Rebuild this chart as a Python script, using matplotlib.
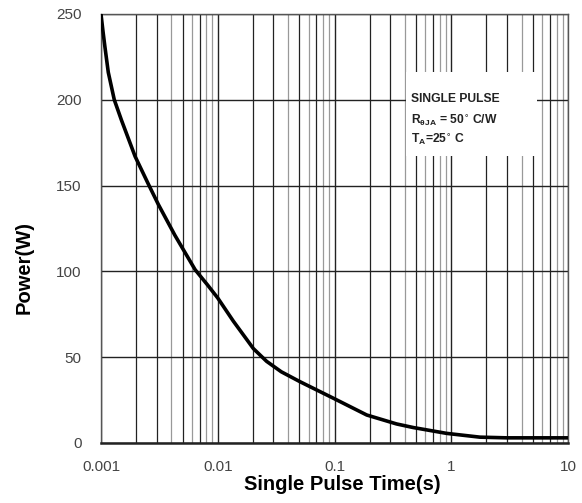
import matplotlib.pyplot as plt
from matplotlib.patches import Rectangle
from matplotlib.ticker import FixedLocator, NullFormatter

plt.rcParams['font.family'] = ['Liberation Sans', 'DejaVu Sans']

# single pulse power curve
pulse_time = [0.001, 0.00104, 0.00108, 0.001155, 0.0013, 0.0015, 0.00196, 0.00254, 0.0031,
              0.0043, 0.0064, 0.0082, 0.01, 0.0136, 0.0202, 0.0262, 0.035, 0.0507,
              0.0977, 0.189, 0.245, 0.34, 0.473, 0.913, 1.76, 3, 10]
power = [250, 240, 231, 216, 200, 188, 167, 151, 139,
         121, 101, 92, 84.5, 71, 55, 47.6, 41.5, 35.7,
         26.1, 16.3, 14.0, 11.1, 9.0, 5.6, 3.4, 3.0, 3.0]

x_ticks = [0.001, 0.01, 0.1, 1, 10]
x_tick_labels = ['0.001', '0.01', '0.1', '1', '10']
y_ticks = [0, 50, 100, 150, 200, 250]

fig = plt.figure(figsize=(5.82, 5.03), dpi=100)
ax = fig.add_axes([0.1735, 0.1193, 0.8025, 0.8529])

ax.set_xscale('log')
ax.set_xlim(0.001, 10)
ax.set_ylim(0, 250)

ax.xaxis.set_major_locator(FixedLocator(x_ticks))
ax.xaxis.set_minor_locator(FixedLocator([]))
ax.xaxis.set_minor_formatter(NullFormatter())
ax.set_xticks(x_ticks)
ax.set_xticklabels(x_tick_labels)
ax.set_yticks(y_ticks)

ax.grid(True, which='major', color='#222222', lw=1.0, zorder=1)

# minor decade lines, some dark and some light as in the datasheet
for e in range(-3, 1):
    for m in range(2, 10):
        c = '#222222' if m in (2, 3, 5, 7) else '#999999'
        ax.axvline(m * 10.0 ** e, color=c, lw=0.9, zorder=1)

ax.tick_params(which='both', length=0, labelsize=11, labelcolor='#444444')
ax.tick_params(axis='x', pad=12)
ax.tick_params(axis='y', pad=14)

for s in ax.spines.values():
    s.set_color('#555555')
    s.set_linewidth(1.0)
ax.spines['bottom'].set_color('#222222')
ax.spines['bottom'].set_linewidth(1.8)

ax.plot(pulse_time, power, color='black', lw=2.6, zorder=5,
        solid_capstyle='round', solid_joinstyle='round')

# white box with the test conditions
ax.add_patch(Rectangle((0.653, 0.669), 0.281, 0.196, transform=ax.transAxes,
                       facecolor='white', edgecolor='none', zorder=4))
ax.text(0.663, 0.801, 'SINGLE PULSE', transform=ax.transAxes, fontsize=8.7,
        fontweight='bold', color='#222222', va='center', zorder=7)
ax.text(0.663, 0.752, r'R$_{\mathregular{\theta JA}}$ = 50$^{\circ}$ C/W',
        transform=ax.transAxes, fontsize=8.7, fontweight='bold', color='#222222',
        va='center', zorder=7)
ax.text(0.663, 0.707, r'T$_{\mathregular{A}}$=25$^{\circ}$ C', transform=ax.transAxes,
        fontsize=8.7, fontweight='bold', color='#222222', va='center', zorder=7)

fig.text(342 / 582, 1 - 485 / 503, 'Single Pulse Time(s)', fontsize=14.5,
         fontweight='bold', ha='center', va='center')
fig.text(24 / 582, 1 - 268 / 503, 'Power(W)', fontsize=14.5, fontweight='bold',
         ha='center', va='center', rotation=90)

fig.savefig('out.png', dpi=100)
